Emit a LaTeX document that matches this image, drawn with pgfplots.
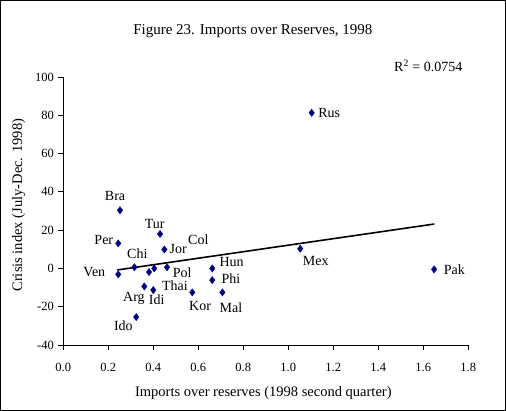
\documentclass[border=0pt]{standalone}
\usepackage{fontspec}
\setmainfont{Liberation Serif}
\usepackage{pgfplots}
\pgfplotsset{compat=1.18}
\pgfkeys{/pgf/number format/assume math mode=true}

\definecolor{ptblue}{HTML}{000080}
\tikzset{lbl/.style={font=\fontsize{14}{16}\selectfont, inner sep=0pt}}

\begin{document}
\begin{tikzpicture}
 \begin{axis}[
  at={(63.3pt,66pt)},
  anchor=south west,
  x=225pt, y=1.914pt,
  xmin=0, xmax=1.8,
  ymin=-40, ymax=100,
  axis lines*=left,
  axis line style={line width=0.8pt},
  tick align=outside,
  major tick length=5pt,
  tick style={line width=0.8pt, black},
  xtick={0,0.2,...,1.8},
  ytick={-40,-20,...,100},
  x tick label style={/pgf/number format/.cd, fixed, fixed zerofill, precision=1, assume math mode=true, /tikz/.cd, yshift=-10pt},
  y tick label style={/pgf/number format/assume math mode=true, xshift=-1pt},
  tick label style={font=\fontsize{12.5}{14}\selectfont},
  clip=false,
  title={Figure 23. Imports over Reserves, 1998},
  title style={at={(axis description cs:0.468,1.175)}, anchor=center, yshift=-6.5pt, font=\fontsize{15}{17}\selectfont},
  xlabel={Imports over reserves (1998 second quarter)},
  xlabel style={at={(axis description cs:0.494,-0.180)}, anchor=center, font=\fontsize{14.5}{16}\selectfont},
  ylabel={Crisis index (July-Dec. 1998)},
  ylabel style={at={(axis description cs:-0.110,0.522)}, anchor=center, rotate=0, font=\fontsize{14.5}{16}\selectfont},
 ]
  % countries
  \addplot[only marks, mark=diamond*, mark size=3.6pt, color=ptblue] coordinates {
   (0.252, 30.4)
   (0.430, 18.0)
   (0.244, 13.1)
   (0.449, 9.9)
   (0.316, 0.6)
   (0.244, -3.1)
   (0.381, -1.9)
   (0.404, 0.0)
   (0.461, 0.6)
   (0.662, 0.0)
   (0.662, -6.1)
   (0.360, -9.4)
   (0.400, -11.3)
   (0.573, -12.5)
   (0.707, -12.5)
   (0.324, -25.4)
   (1.104, 81.3)
   (1.053, 10.3)
   (1.648, -0.5)
  };
  % linear trend
  \addplot[black, line width=1.6pt] coordinates {
   (0.240, -0.8)
   (1.649, 23.2)
  };
  \node[lbl] at (axis cs:0.230,37.8) {Bra};
  \node[lbl] at (axis cs:0.406,23.0) {Tur};
  \node[lbl] at (axis cs:0.180,14.8) {Per};
  \node[lbl] at (axis cs:0.600,15.2) {Col};
  \node[lbl] at (axis cs:0.511,10.0) {Jor};
  \node[lbl] at (axis cs:0.329,7.5) {Chi};
  \node[lbl] at (axis cs:0.138,-2.0) {Ven};
  \node[lbl] at (axis cs:0.748,3.2) {Hun};
  \node[lbl] at (axis cs:0.528,-2.2) {Pol};
  \node[lbl] at (axis cs:0.745,-5.4) {Phi};
  \node[lbl] at (axis cs:0.496,-9.0) {Thai};
  \node[lbl] at (axis cs:0.314,-15.6) {Arg};
  \node[lbl] at (axis cs:0.415,-16.1) {Idi};
  \node[lbl] at (axis cs:0.608,-19.5) {Kor};
  \node[lbl] at (axis cs:0.745,-20.5) {Mal};
  \node[lbl] at (axis cs:0.267,-29.9) {Ido};
  \node[lbl] at (axis cs:1.182,81.0) {Rus};
  \node[lbl] at (axis cs:1.122,3.9) {Mex};
  \node[lbl] at (axis cs:1.738,-0.5) {Pak};
  \node[lbl] at (axis cs:1.622,105.9) {R\textsuperscript{2} = 0.0754};
 \end{axis}
 \draw[line width=1pt] (0.5pt,0.5pt) rectangle (505.5pt,410.5pt);
\end{tikzpicture}
\end{document}
